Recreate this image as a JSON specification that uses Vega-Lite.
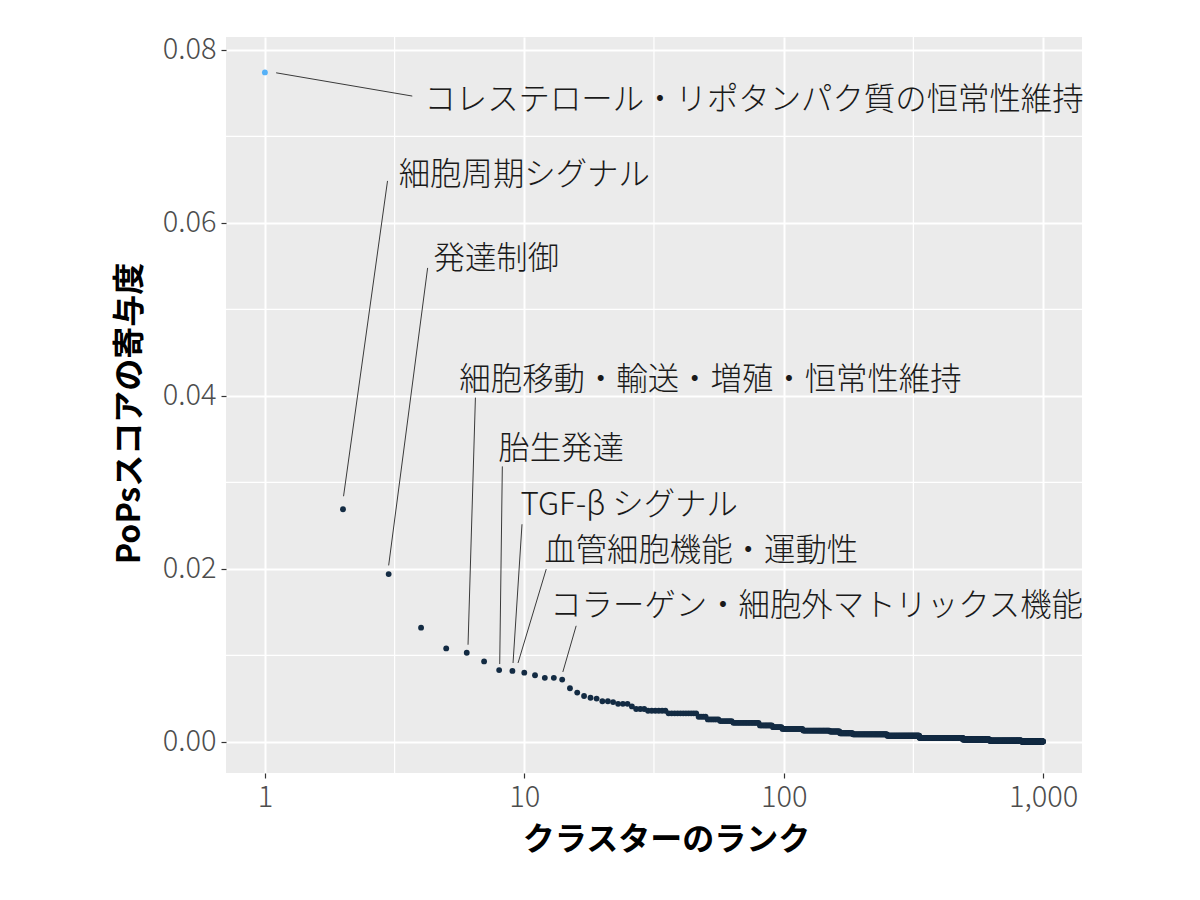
{
"$schema":"https://vega.github.io/schema/vega-lite/v6.json",
"width":856,"height":736,
"autosize":{"type":"none"},
"padding":{"left":226,"top":37,"right":118,"bottom":127},
"background":"white",
"config":{"view":{"fill":"#EBEBEB","stroke":null},"font":"Noto Sans CJK JP",
"axis":{"domain":false,"grid":true,"gridColor":"#FFFFFF","gridWidth":2,"tickColor":"#333333","tickSize":5,"tickWidth":1.2,"labelColor":"#4D4D4D","labelFont":"Noto Sans CJK JP","labelFontSize":29,"labelFontWeight":300,"titleColor":"#000000","titleFont":"Noto Sans CJK JP","titleFontSize":32,"titleFontWeight":"bold"}},
"datasets":{
"gx":[{"g":3.1623},{"g":31.623},{"g":316.23}],
"gy":[{"g":0.01},{"g":0.03},{"g":0.05},{"g":0.07}],
"lab":[
{"t":"コレステロール・リポタンパク質の恒常性維持","tx":4.12,"ty":0.0741,"sx":1.105,"sy":0.07736,"ex":3.70,"ey":0.07467},
{"t":"細胞周期シグナル","tx":3.28,"ty":0.0654,"sx":2.97,"sy":0.06486,"ex":2.01,"ey":0.0284},
{"t":"発達制御","tx":4.47,"ty":0.0557,"sx":4.24,"sy":0.0548,"ex":3.0,"ey":0.0204},
{"t":"細胞移動・輸送・増殖・恒常性維持","tx":5.62,"ty":0.04178,"sx":6.48,"sy":0.0398,"ex":6.07,"ey":0.01123},
{"t":"胎生発達","tx":7.94,"ty":0.0338,"sx":8.23,"sy":0.03185,"ex":8.04,"ey":0.009},
{"t":"TGF-β シグナル","tx":9.66,"ty":0.02724,"sx":9.8,"sy":0.02516,"ex":9.05,"ey":0.00912},
{"t":"血管細胞機能・運動性","tx":11.94,"ty":0.02193,"sx":12.15,"sy":0.01997,"ex":9.46,"ey":0.00912},
{"t":"コラーゲン・細胞外マトリックス機能","tx":12.59,"ty":0.01558,"sx":15.85,"sy":0.01342,"ex":14.08,"ey":0.00808}
],
"pts":[
{"r":1,"v":0.0774},{"r":2,"v":0.0269},{"r":3,"v":0.0194},{"r":4,"v":0.0132},{"r":5,"v":0.0108},{"r":6,"v":0.0103},{"r":7,"v":0.0093},{"r":8,"v":0.0083},{"r":9,"v":0.0082},{"r":10,"v":0.0080},
{"r":11,"v":0.0077},{"r":12,"v":0.0074},{"r":13,"v":0.0074},{"r":14,"v":0.0072},{"r":15,"v":0.0062},{"r":16,"v":0.0057},{"r":17,"v":0.0053},{"r":18,"v":0.0051},{"r":19,"v":0.0050},{"r":20,"v":0.0047},
{"r":21,"v":0.0047},{"r":22,"v":0.0046},{"r":23,"v":0.0044},{"r":24,"v":0.0044},{"r":25,"v":0.0044},{"r":26,"v":0.0041},{"r":27,"v":0.0038},{"r":28,"v":0.0038},{"r":29,"v":0.0038},{"r":30,"v":0.0036},
{"r":31,"v":0.0036},{"r":32,"v":0.0036},{"r":33,"v":0.0036},{"r":34,"v":0.0036},{"r":35,"v":0.0036},{"r":36,"v":0.0033},{"r":37,"v":0.0033},{"r":38,"v":0.0033},{"r":39,"v":0.0033},{"r":40,"v":0.0033},
{"r":41,"v":0.0033},{"r":42,"v":0.0033},{"r":43,"v":0.0033},{"r":44,"v":0.0033},{"r":45,"v":0.0033},{"r":46,"v":0.0033},{"r":47,"v":0.0029},{"r":48,"v":0.0029},{"r":49,"v":0.0029},{"r":50,"v":0.0029},
{"r":51,"v":0.0026},{"r":52,"v":0.0026},{"r":53,"v":0.0026},{"r":54,"v":0.0026},{"r":55,"v":0.0026},{"r":56,"v":0.0026},{"r":57,"v":0.0024},{"r":58,"v":0.0024},{"r":59,"v":0.0024},{"r":60,"v":0.0024},
{"r":61,"v":0.0024},{"r":62,"v":0.0024},{"r":63,"v":0.0024},{"r":64,"v":0.0022},{"r":65,"v":0.0022},{"r":66,"v":0.0022},{"r":67,"v":0.0022},{"r":68,"v":0.0022},{"r":69,"v":0.0022},{"r":70,"v":0.0022},
{"r":71,"v":0.0022},{"r":72,"v":0.0022},{"r":73,"v":0.0022},{"r":74,"v":0.0022},{"r":75,"v":0.0022},{"r":76,"v":0.0022},{"r":77,"v":0.0022},{"r":78,"v":0.0022},{"r":79,"v":0.0022},{"r":80,"v":0.0022},
{"r":81,"v":0.0019},{"r":82,"v":0.0019},{"r":83,"v":0.0019},{"r":84,"v":0.0019},{"r":85,"v":0.0019},{"r":86,"v":0.0019},{"r":87,"v":0.0019},{"r":88,"v":0.0019},{"r":89,"v":0.0019},{"r":90,"v":0.0019},
{"r":91,"v":0.0017},{"r":92,"v":0.0017},{"r":93,"v":0.0017},{"r":94,"v":0.0017},{"r":95,"v":0.0017},{"r":96,"v":0.0017},{"r":97,"v":0.0017},{"r":98,"v":0.0017},{"r":99,"v":0.0015},{"r":100,"v":0.0015},
{"r":101,"v":0.0015},{"r":102,"v":0.0015},{"r":103,"v":0.0015},{"r":104,"v":0.0015},{"r":105,"v":0.0015},{"r":106,"v":0.0015},{"r":107,"v":0.0015},{"r":108,"v":0.0015},{"r":109,"v":0.0015},{"r":110,"v":0.0015},
{"r":111,"v":0.0015},{"r":112,"v":0.0015},{"r":113,"v":0.0015},{"r":114,"v":0.0015},{"r":115,"v":0.0015},{"r":116,"v":0.0015},{"r":117,"v":0.0015},{"r":118,"v":0.0015},{"r":119,"v":0.0013},{"r":120,"v":0.0013},
{"r":121,"v":0.0013},{"r":122,"v":0.0013},{"r":123,"v":0.0013},{"r":124,"v":0.0013},{"r":125,"v":0.0013},{"r":126,"v":0.0013},{"r":127,"v":0.0013},{"r":128,"v":0.0013},{"r":129,"v":0.0013},{"r":130,"v":0.0013},
{"r":131,"v":0.0013},{"r":132,"v":0.0013},{"r":133,"v":0.0013},{"r":134,"v":0.0013},{"r":135,"v":0.0013},{"r":136,"v":0.0013},{"r":137,"v":0.0013},{"r":138,"v":0.0013},{"r":139,"v":0.0013},{"r":140,"v":0.0013},
{"r":141,"v":0.0013},{"r":142,"v":0.0013},{"r":143,"v":0.0013},{"r":144,"v":0.0013},{"r":145,"v":0.0013},{"r":146,"v":0.0013},{"r":147,"v":0.0013},{"r":148,"v":0.0013},{"r":149,"v":0.0013},{"r":150,"v":0.0013},
{"r":151,"v":0.0012},{"r":152,"v":0.0012},{"r":153,"v":0.0012},{"r":154,"v":0.0012},{"r":155,"v":0.0012},{"r":156,"v":0.0012},{"r":157,"v":0.0012},{"r":158,"v":0.0012},{"r":159,"v":0.0012},{"r":160,"v":0.0012},
{"r":161,"v":0.0012},{"r":162,"v":0.0012},{"r":163,"v":0.0012},{"r":164,"v":0.0012},{"r":165,"v":0.0010},{"r":166,"v":0.0010},{"r":167,"v":0.0010},{"r":168,"v":0.0010},{"r":169,"v":0.0010},{"r":170,"v":0.0010},
{"r":171,"v":0.0010},{"r":172,"v":0.0010},{"r":173,"v":0.0010},{"r":174,"v":0.0010},{"r":175,"v":0.0010},{"r":176,"v":0.0010},{"r":177,"v":0.0010},{"r":178,"v":0.0010},{"r":179,"v":0.0010},{"r":180,"v":0.0010},
{"r":181,"v":0.0010},{"r":182,"v":0.0010},{"r":183,"v":0.0010},{"r":184,"v":0.0010},{"r":185,"v":0.00087},{"r":186,"v":0.00087},{"r":187,"v":0.00087},{"r":188,"v":0.00087},{"r":189,"v":0.00087},{"r":190,"v":0.00087},
{"r":191,"v":0.00087},{"r":192,"v":0.00087},{"r":193,"v":0.00087},{"r":194,"v":0.00087},{"r":195,"v":0.00087},{"r":196,"v":0.00087},{"r":197,"v":0.00087},{"r":198,"v":0.00087},{"r":199,"v":0.00087},{"r":200,"v":0.00087},
{"r":201,"v":0.00087},{"r":202,"v":0.00087},{"r":203,"v":0.00087},{"r":204,"v":0.00087},{"r":205,"v":0.00087},{"r":206,"v":0.00087},{"r":207,"v":0.00087},{"r":208,"v":0.00087},{"r":209,"v":0.00087},{"r":210,"v":0.00087},
{"r":211,"v":0.00087},{"r":212,"v":0.00087},{"r":213,"v":0.00087},{"r":214,"v":0.00087},{"r":215,"v":0.00087},{"r":216,"v":0.00087},{"r":217,"v":0.00087},{"r":218,"v":0.00087},{"r":219,"v":0.00087},{"r":220,"v":0.00087},
{"r":221,"v":0.00087},{"r":222,"v":0.00087},{"r":223,"v":0.00087},{"r":224,"v":0.00087},{"r":225,"v":0.00087},{"r":226,"v":0.00087},{"r":227,"v":0.00087},{"r":228,"v":0.00087},{"r":229,"v":0.00087},{"r":230,"v":0.00087},
{"r":231,"v":0.00087},{"r":232,"v":0.00087},{"r":233,"v":0.00087},{"r":234,"v":0.00087},{"r":235,"v":0.00087},{"r":236,"v":0.00087},{"r":237,"v":0.00087},{"r":238,"v":0.00087},{"r":239,"v":0.00087},{"r":240,"v":0.00087},
{"r":241,"v":0.00087},{"r":242,"v":0.00087},{"r":243,"v":0.00087},{"r":244,"v":0.00087},{"r":245,"v":0.00087},{"r":246,"v":0.00087},{"r":247,"v":0.00087},{"r":248,"v":0.00087},{"r":249,"v":0.00087},{"r":250,"v":0.00087},
{"r":251,"v":0.00072},{"r":252,"v":0.00072},{"r":253,"v":0.00072},{"r":254,"v":0.00072},{"r":255,"v":0.00072},{"r":256,"v":0.00072},{"r":257,"v":0.00072},{"r":258,"v":0.00072},{"r":259,"v":0.00072},{"r":260,"v":0.00072},
{"r":261,"v":0.00072},{"r":262,"v":0.00072},{"r":263,"v":0.00072},{"r":264,"v":0.00072},{"r":265,"v":0.00072},{"r":266,"v":0.00072},{"r":267,"v":0.00072},{"r":268,"v":0.00072},{"r":269,"v":0.00072},{"r":270,"v":0.00072},
{"r":271,"v":0.00072},{"r":272,"v":0.00072},{"r":273,"v":0.00072},{"r":274,"v":0.00072},{"r":275,"v":0.00072},{"r":276,"v":0.00072},{"r":277,"v":0.00072},{"r":278,"v":0.00072},{"r":279,"v":0.00072},{"r":280,"v":0.00072},
{"r":281,"v":0.00072},{"r":282,"v":0.00072},{"r":283,"v":0.00072},{"r":284,"v":0.00072},{"r":285,"v":0.00072},{"r":286,"v":0.00072},{"r":287,"v":0.00072},{"r":288,"v":0.00072},{"r":289,"v":0.00072},{"r":290,"v":0.00072},
{"r":291,"v":0.00072},{"r":292,"v":0.00072},{"r":293,"v":0.00072},{"r":294,"v":0.00072},{"r":295,"v":0.00072},{"r":296,"v":0.00072},{"r":297,"v":0.00072},{"r":298,"v":0.00072},{"r":299,"v":0.00072},{"r":300,"v":0.00072},
{"r":301,"v":0.00072},{"r":302,"v":0.00072},{"r":303,"v":0.00072},{"r":304,"v":0.00072},{"r":305,"v":0.00072},{"r":306,"v":0.00072},{"r":307,"v":0.00072},{"r":308,"v":0.00072},{"r":309,"v":0.00072},{"r":310,"v":0.00072},
{"r":311,"v":0.00072},{"r":312,"v":0.00072},{"r":313,"v":0.00072},{"r":314,"v":0.00072},{"r":315,"v":0.00072},{"r":316,"v":0.00072},{"r":317,"v":0.00072},{"r":318,"v":0.00072},{"r":319,"v":0.00072},{"r":320,"v":0.00072},
{"r":321,"v":0.00072},{"r":322,"v":0.00072},{"r":323,"v":0.00072},{"r":324,"v":0.00072},{"r":325,"v":0.00072},{"r":326,"v":0.00072},{"r":327,"v":0.00072},{"r":328,"v":0.00072},{"r":329,"v":0.00072},{"r":330,"v":0.00072},
{"r":331,"v":0.00072},{"r":332,"v":0.00072},{"r":333,"v":0.00072},{"r":334,"v":0.00047},{"r":335,"v":0.00047},{"r":336,"v":0.00047},{"r":337,"v":0.00047},{"r":338,"v":0.00047},{"r":339,"v":0.00047},{"r":340,"v":0.00047},
{"r":341,"v":0.00047},{"r":342,"v":0.00047},{"r":343,"v":0.00047},{"r":344,"v":0.00047},{"r":345,"v":0.00047},{"r":346,"v":0.00047},{"r":347,"v":0.00047},{"r":348,"v":0.00047},{"r":349,"v":0.00047},{"r":350,"v":0.00047},
{"r":351,"v":0.00047},{"r":352,"v":0.00047},{"r":353,"v":0.00047},{"r":354,"v":0.00047},{"r":355,"v":0.00047},{"r":356,"v":0.00047},{"r":357,"v":0.00047},{"r":358,"v":0.00047},{"r":359,"v":0.00047},{"r":360,"v":0.00047},
{"r":361,"v":0.00047},{"r":362,"v":0.00047},{"r":363,"v":0.00047},{"r":364,"v":0.00047},{"r":365,"v":0.00047},{"r":366,"v":0.00047},{"r":367,"v":0.00047},{"r":368,"v":0.00047},{"r":369,"v":0.00047},{"r":370,"v":0.00047},
{"r":371,"v":0.00047},{"r":372,"v":0.00047},{"r":373,"v":0.00047},{"r":374,"v":0.00047},{"r":375,"v":0.00047},{"r":376,"v":0.00047},{"r":377,"v":0.00047},{"r":378,"v":0.00047},{"r":379,"v":0.00047},{"r":380,"v":0.00047},
{"r":381,"v":0.00047},{"r":382,"v":0.00047},{"r":383,"v":0.00047},{"r":384,"v":0.00047},{"r":385,"v":0.00047},{"r":386,"v":0.00047},{"r":387,"v":0.00047},{"r":388,"v":0.00047},{"r":389,"v":0.00047},{"r":390,"v":0.00047},
{"r":391,"v":0.00047},{"r":392,"v":0.00047},{"r":393,"v":0.00047},{"r":394,"v":0.00047},{"r":395,"v":0.00047},{"r":396,"v":0.00047},{"r":397,"v":0.00047},{"r":398,"v":0.00047},{"r":399,"v":0.00047},{"r":400,"v":0.00047},
{"r":401,"v":0.00047},{"r":402,"v":0.00047},{"r":403,"v":0.00047},{"r":404,"v":0.00047},{"r":405,"v":0.00047},{"r":406,"v":0.00047},{"r":407,"v":0.00047},{"r":408,"v":0.00047},{"r":409,"v":0.00047},{"r":410,"v":0.00047},
{"r":411,"v":0.00047},{"r":412,"v":0.00047},{"r":413,"v":0.00047},{"r":414,"v":0.00047},{"r":415,"v":0.00047},{"r":416,"v":0.00047},{"r":417,"v":0.00047},{"r":418,"v":0.00047},{"r":419,"v":0.00047},{"r":420,"v":0.00047},
{"r":421,"v":0.00047},{"r":422,"v":0.00047},{"r":423,"v":0.00047},{"r":424,"v":0.00047},{"r":425,"v":0.00047},{"r":426,"v":0.00047},{"r":427,"v":0.00047},{"r":428,"v":0.00047},{"r":429,"v":0.00047},{"r":430,"v":0.00047},
{"r":431,"v":0.00047},{"r":432,"v":0.00047},{"r":433,"v":0.00047},{"r":434,"v":0.00047},{"r":435,"v":0.00047},{"r":436,"v":0.00047},{"r":437,"v":0.00047},{"r":438,"v":0.00047},{"r":439,"v":0.00047},{"r":440,"v":0.00047},
{"r":441,"v":0.00047},{"r":442,"v":0.00047},{"r":443,"v":0.00047},{"r":444,"v":0.00047},{"r":445,"v":0.00047},{"r":446,"v":0.00047},{"r":447,"v":0.00047},{"r":448,"v":0.00047},{"r":449,"v":0.00047},{"r":450,"v":0.00047},
{"r":451,"v":0.00047},{"r":452,"v":0.00047},{"r":453,"v":0.00047},{"r":454,"v":0.00047},{"r":455,"v":0.00047},{"r":456,"v":0.00047},{"r":457,"v":0.00047},{"r":458,"v":0.00047},{"r":459,"v":0.00047},{"r":460,"v":0.00047},
{"r":461,"v":0.00047},{"r":462,"v":0.00047},{"r":463,"v":0.00047},{"r":464,"v":0.00047},{"r":465,"v":0.00047},{"r":466,"v":0.00047},{"r":467,"v":0.00047},{"r":468,"v":0.00047},{"r":469,"v":0.00047},{"r":470,"v":0.00047},
{"r":471,"v":0.00047},{"r":472,"v":0.00047},{"r":473,"v":0.00047},{"r":474,"v":0.00047},{"r":475,"v":0.00047},{"r":476,"v":0.00047},{"r":477,"v":0.00047},{"r":478,"v":0.00047},{"r":479,"v":0.00047},{"r":480,"v":0.00047},
{"r":481,"v":0.00047},{"r":482,"v":0.00047},{"r":483,"v":0.00047},{"r":484,"v":0.00047},{"r":485,"v":0.00047},{"r":486,"v":0.00047},{"r":487,"v":0.00047},{"r":488,"v":0.00047},{"r":489,"v":0.00047},{"r":490,"v":0.00047},
{"r":491,"v":0.00028},{"r":492,"v":0.00028},{"r":493,"v":0.00028},{"r":494,"v":0.00028},{"r":495,"v":0.00028},{"r":496,"v":0.00028},{"r":497,"v":0.00028},{"r":498,"v":0.00028},{"r":499,"v":0.00028},{"r":500,"v":0.00028},
{"r":501,"v":0.00028},{"r":502,"v":0.00028},{"r":503,"v":0.00028},{"r":504,"v":0.00028},{"r":505,"v":0.00028},{"r":506,"v":0.00028},{"r":507,"v":0.00028},{"r":508,"v":0.00028},{"r":509,"v":0.00028},{"r":510,"v":0.00028},
{"r":511,"v":0.00028},{"r":512,"v":0.00028},{"r":513,"v":0.00028},{"r":514,"v":0.00028},{"r":515,"v":0.00028},{"r":516,"v":0.00028},{"r":517,"v":0.00028},{"r":518,"v":0.00028},{"r":519,"v":0.00028},{"r":520,"v":0.00028},
{"r":521,"v":0.00028},{"r":522,"v":0.00028},{"r":523,"v":0.00028},{"r":524,"v":0.00028},{"r":525,"v":0.00028},{"r":526,"v":0.00028},{"r":527,"v":0.00028},{"r":528,"v":0.00028},{"r":529,"v":0.00028},{"r":530,"v":0.00028},
{"r":531,"v":0.00028},{"r":532,"v":0.00028},{"r":533,"v":0.00028},{"r":534,"v":0.00028},{"r":535,"v":0.00028},{"r":536,"v":0.00028},{"r":537,"v":0.00028},{"r":538,"v":0.00028},{"r":539,"v":0.00028},{"r":540,"v":0.00028},
{"r":541,"v":0.00028},{"r":542,"v":0.00028},{"r":543,"v":0.00028},{"r":544,"v":0.00028},{"r":545,"v":0.00028},{"r":546,"v":0.00028},{"r":547,"v":0.00028},{"r":548,"v":0.00028},{"r":549,"v":0.00028},{"r":550,"v":0.00028},
{"r":551,"v":0.00028},{"r":552,"v":0.00028},{"r":553,"v":0.00028},{"r":554,"v":0.00028},{"r":555,"v":0.00028},{"r":556,"v":0.00028},{"r":557,"v":0.00028},{"r":558,"v":0.00028},{"r":559,"v":0.00028},{"r":560,"v":0.00028},
{"r":561,"v":0.00028},{"r":562,"v":0.00028},{"r":563,"v":0.00028},{"r":564,"v":0.00028},{"r":565,"v":0.00028},{"r":566,"v":0.00028},{"r":567,"v":0.00028},{"r":568,"v":0.00028},{"r":569,"v":0.00028},{"r":570,"v":0.00028},
{"r":571,"v":0.00028},{"r":572,"v":0.00028},{"r":573,"v":0.00028},{"r":574,"v":0.00028},{"r":575,"v":0.00028},{"r":576,"v":0.00028},{"r":577,"v":0.00028},{"r":578,"v":0.00028},{"r":579,"v":0.00028},{"r":580,"v":0.00028},
{"r":581,"v":0.00028},{"r":582,"v":0.00028},{"r":583,"v":0.00028},{"r":584,"v":0.00028},{"r":585,"v":0.00028},{"r":586,"v":0.00028},{"r":587,"v":0.00028},{"r":588,"v":0.00028},{"r":589,"v":0.00028},{"r":590,"v":0.00028},
{"r":591,"v":0.00028},{"r":592,"v":0.00028},{"r":593,"v":0.00028},{"r":594,"v":0.00028},{"r":595,"v":0.00028},{"r":596,"v":0.00028},{"r":597,"v":0.00028},{"r":598,"v":0.00028},{"r":599,"v":0.00028},{"r":600,"v":0.00028},
{"r":601,"v":0.00028},{"r":602,"v":0.00028},{"r":603,"v":0.00028},{"r":604,"v":0.00028},{"r":605,"v":0.00028},{"r":606,"v":0.00028},{"r":607,"v":0.00028},{"r":608,"v":0.00028},{"r":609,"v":0.00028},{"r":610,"v":0.00028},
{"r":611,"v":0.00028},{"r":612,"v":0.00028},{"r":613,"v":0.00028},{"r":614,"v":0.00028},{"r":615,"v":0.00028},{"r":616,"v":0.00028},{"r":617,"v":0.00028},{"r":618,"v":0.00028},{"r":619,"v":0.00028},{"r":620,"v":0.00028},
{"r":621,"v":0.00015},{"r":622,"v":0.00015},{"r":623,"v":0.00015},{"r":624,"v":0.00015},{"r":625,"v":0.00015},{"r":626,"v":0.00015},{"r":627,"v":0.00015},{"r":628,"v":0.00015},{"r":629,"v":0.00015},{"r":630,"v":0.00015},
{"r":631,"v":0.00015},{"r":632,"v":0.00015},{"r":633,"v":0.00015},{"r":634,"v":0.00015},{"r":635,"v":0.00015},{"r":636,"v":0.00015},{"r":637,"v":0.00015},{"r":638,"v":0.00015},{"r":639,"v":0.00015},{"r":640,"v":0.00015},
{"r":641,"v":0.00015},{"r":642,"v":0.00015},{"r":643,"v":0.00015},{"r":644,"v":0.00015},{"r":645,"v":0.00015},{"r":646,"v":0.00015},{"r":647,"v":0.00015},{"r":648,"v":0.00015},{"r":649,"v":0.00015},{"r":650,"v":0.00015},
{"r":651,"v":0.00015},{"r":652,"v":0.00015},{"r":653,"v":0.00015},{"r":654,"v":0.00015},{"r":655,"v":0.00015},{"r":656,"v":0.00015},{"r":657,"v":0.00015},{"r":658,"v":0.00015},{"r":659,"v":0.00015},{"r":660,"v":0.00015},
{"r":661,"v":0.00015},{"r":662,"v":0.00015},{"r":663,"v":0.00015},{"r":664,"v":0.00015},{"r":665,"v":0.00015},{"r":666,"v":0.00015},{"r":667,"v":0.00015},{"r":668,"v":0.00015},{"r":669,"v":0.00015},{"r":670,"v":0.00015},
{"r":671,"v":0.00015},{"r":672,"v":0.00015},{"r":673,"v":0.00015},{"r":674,"v":0.00015},{"r":675,"v":0.00015},{"r":676,"v":0.00015},{"r":677,"v":0.00015},{"r":678,"v":0.00015},{"r":679,"v":0.00015},{"r":680,"v":0.00015},
{"r":681,"v":0.00015},{"r":682,"v":0.00015},{"r":683,"v":0.00015},{"r":684,"v":0.00015},{"r":685,"v":0.00015},{"r":686,"v":0.00015},{"r":687,"v":0.00015},{"r":688,"v":0.00015},{"r":689,"v":0.00015},{"r":690,"v":0.00015},
{"r":691,"v":0.00015},{"r":692,"v":0.00015},{"r":693,"v":0.00015},{"r":694,"v":0.00015},{"r":695,"v":0.00015},{"r":696,"v":0.00015},{"r":697,"v":0.00015},{"r":698,"v":0.00015},{"r":699,"v":0.00015},{"r":700,"v":0.00015},
{"r":701,"v":0.00015},{"r":702,"v":0.00015},{"r":703,"v":0.00015},{"r":704,"v":0.00015},{"r":705,"v":0.00015},{"r":706,"v":0.00015},{"r":707,"v":0.00015},{"r":708,"v":0.00015},{"r":709,"v":0.00015},{"r":710,"v":0.00015},
{"r":711,"v":0.00015},{"r":712,"v":0.00015},{"r":713,"v":0.00015},{"r":714,"v":0.00015},{"r":715,"v":0.00015},{"r":716,"v":0.00015},{"r":717,"v":0.00015},{"r":718,"v":0.00015},{"r":719,"v":0.00015},{"r":720,"v":0.00015},
{"r":721,"v":0.00015},{"r":722,"v":0.00015},{"r":723,"v":0.00015},{"r":724,"v":0.00015},{"r":725,"v":0.00015},{"r":726,"v":0.00015},{"r":727,"v":0.00015},{"r":728,"v":0.00015},{"r":729,"v":0.00015},{"r":730,"v":0.00015},
{"r":731,"v":0.00015},{"r":732,"v":0.00015},{"r":733,"v":0.00015},{"r":734,"v":0.00015},{"r":735,"v":0.00015},{"r":736,"v":0.00015},{"r":737,"v":0.00015},{"r":738,"v":0.00015},{"r":739,"v":0.00015},{"r":740,"v":0.00015},
{"r":741,"v":0.00015},{"r":742,"v":0.00015},{"r":743,"v":0.00015},{"r":744,"v":0.00015},{"r":745,"v":0.00015},{"r":746,"v":0.00015},{"r":747,"v":0.00015},{"r":748,"v":0.00015},{"r":749,"v":0.00015},{"r":750,"v":0.00015},
{"r":751,"v":0.00015},{"r":752,"v":0.00015},{"r":753,"v":0.00015},{"r":754,"v":0.00015},{"r":755,"v":0.00015},{"r":756,"v":0.00015},{"r":757,"v":0.00015},{"r":758,"v":0.00015},{"r":759,"v":0.00015},{"r":760,"v":0.00015},
{"r":761,"v":0.00015},{"r":762,"v":0.00015},{"r":763,"v":0.00015},{"r":764,"v":0.00015},{"r":765,"v":0.00015},{"r":766,"v":0.00015},{"r":767,"v":0.00015},{"r":768,"v":0.00015},{"r":769,"v":0.00015},{"r":770,"v":0.00015},
{"r":771,"v":0.00015},{"r":772,"v":0.00015},{"r":773,"v":0.00015},{"r":774,"v":0.00015},{"r":775,"v":0.00015},{"r":776,"v":0.00015},{"r":777,"v":0.00015},{"r":778,"v":0.00015},{"r":779,"v":0.00015},{"r":780,"v":0.00015},
{"r":781,"v":0.00015},{"r":782,"v":0.00015},{"r":783,"v":0.00015},{"r":784,"v":0.00015},{"r":785,"v":0.00015},{"r":786,"v":0.00015},{"r":787,"v":0.00015},{"r":788,"v":0.00015},{"r":789,"v":0.00015},{"r":790,"v":0.00015},
{"r":791,"v":0.00015},{"r":792,"v":0.00015},{"r":793,"v":0.00015},{"r":794,"v":0.00015},{"r":795,"v":0.00015},{"r":796,"v":0.00015},{"r":797,"v":0.00015},{"r":798,"v":0.00015},{"r":799,"v":0.00015},{"r":800,"v":0.00015},
{"r":801,"v":0.00015},{"r":802,"v":0.00015},{"r":803,"v":0.00015},{"r":804,"v":0.00015},{"r":805,"v":0.00015},{"r":806,"v":0.00015},{"r":807,"v":0.00015},{"r":808,"v":0.00015},{"r":809,"v":0.00015},{"r":810,"v":0.00015},
{"r":811,"v":0.00015},{"r":812,"v":0.00015},{"r":813,"v":0.00015},{"r":814,"v":0.00015},{"r":815,"v":0.00015},{"r":816,"v":0.00015},{"r":817,"v":0.00015},{"r":818,"v":0.00015},{"r":819,"v":0.00015},{"r":820,"v":0.00015},
{"r":821,"v":0.00015},{"r":822,"v":0.00015},{"r":823,"v":0.00015},{"r":824,"v":0.00015},{"r":825,"v":0.00015},{"r":826,"v":0.00015},{"r":827,"v":0.00004},{"r":828,"v":0.00004},{"r":829,"v":0.00004},{"r":830,"v":0.00004},
{"r":831,"v":0.00004},{"r":832,"v":0.00004},{"r":833,"v":0.00004},{"r":834,"v":0.00004},{"r":835,"v":0.00004},{"r":836,"v":0.00004},{"r":837,"v":0.00004},{"r":838,"v":0.00004},{"r":839,"v":0.00004},{"r":840,"v":0.00004},
{"r":841,"v":0.00004},{"r":842,"v":0.00004},{"r":843,"v":0.00004},{"r":844,"v":0.00004},{"r":845,"v":0.00004},{"r":846,"v":0.00004},{"r":847,"v":0.00004},{"r":848,"v":0.00004},{"r":849,"v":0.00004},{"r":850,"v":0.00004},
{"r":851,"v":0.00004},{"r":852,"v":0.00004},{"r":853,"v":0.00004},{"r":854,"v":0.00004},{"r":855,"v":0.00004},{"r":856,"v":0.00004},{"r":857,"v":0.00004},{"r":858,"v":0.00004},{"r":859,"v":0.00004},{"r":860,"v":0.00004},
{"r":861,"v":0.00004},{"r":862,"v":0.00004},{"r":863,"v":0.00004},{"r":864,"v":0.00004},{"r":865,"v":0.00004},{"r":866,"v":0.00004},{"r":867,"v":0.00004},{"r":868,"v":0.00004},{"r":869,"v":0.00004},{"r":870,"v":0.00004},
{"r":871,"v":0.00004},{"r":872,"v":0.00004},{"r":873,"v":0.00004},{"r":874,"v":0.00004},{"r":875,"v":0.00004},{"r":876,"v":0.00004},{"r":877,"v":0.00004},{"r":878,"v":0.00004},{"r":879,"v":0.00004},{"r":880,"v":0.00004},
{"r":881,"v":0.00004},{"r":882,"v":0.00004},{"r":883,"v":0.00004},{"r":884,"v":0.00004},{"r":885,"v":0.00004},{"r":886,"v":0.00004},{"r":887,"v":0.00004},{"r":888,"v":0.00004},{"r":889,"v":0.00004},{"r":890,"v":0.00004},
{"r":891,"v":0.00004},{"r":892,"v":0.00004},{"r":893,"v":0.00004},{"r":894,"v":0.00004},{"r":895,"v":0.00004},{"r":896,"v":0.00004},{"r":897,"v":0.00004},{"r":898,"v":0.00004},{"r":899,"v":0.00004},{"r":900,"v":0.00004},
{"r":901,"v":0.00004},{"r":902,"v":0.00004},{"r":903,"v":0.00004},{"r":904,"v":0.00004},{"r":905,"v":0.00004},{"r":906,"v":0.00004},{"r":907,"v":0.00004},{"r":908,"v":0.00004},{"r":909,"v":0.00004},{"r":910,"v":0.00004},
{"r":911,"v":0.00004},{"r":912,"v":0.00004},{"r":913,"v":0.00004},{"r":914,"v":0.00004},{"r":915,"v":0.00004},{"r":916,"v":0.00004},{"r":917,"v":0.00004},{"r":918,"v":0.00004},{"r":919,"v":0.00004},{"r":920,"v":0.00004},
{"r":921,"v":0.00004},{"r":922,"v":0.00004},{"r":923,"v":0.00004},{"r":924,"v":0.00004},{"r":925,"v":0.00004},{"r":926,"v":0.00004},{"r":927,"v":0.00004},{"r":928,"v":0.00004},{"r":929,"v":0.00004},{"r":930,"v":0.00004},
{"r":931,"v":0.00004},{"r":932,"v":0.00004},{"r":933,"v":0.00004},{"r":934,"v":0.00004},{"r":935,"v":0.00004},{"r":936,"v":0.00004},{"r":937,"v":0.00004},{"r":938,"v":0.00004},{"r":939,"v":0.00004},{"r":940,"v":0.00004},
{"r":941,"v":0.00004},{"r":942,"v":0.00004},{"r":943,"v":0.00004},{"r":944,"v":0.00004},{"r":945,"v":0.00004},{"r":946,"v":0.00004},{"r":947,"v":0.00004},{"r":948,"v":0.00004},{"r":949,"v":0.00004},{"r":950,"v":0.00004},
{"r":951,"v":0.00004},{"r":952,"v":0.00004},{"r":953,"v":0.00004},{"r":954,"v":0.00004},{"r":955,"v":0.00004},{"r":956,"v":0.00004},{"r":957,"v":0.00004},{"r":958,"v":0.00004},{"r":959,"v":0.00004},{"r":960,"v":0.00004},
{"r":961,"v":0.00004},{"r":962,"v":0.00004},{"r":963,"v":0.00004},{"r":964,"v":0.00004},{"r":965,"v":0.00004},{"r":966,"v":0.00004},{"r":967,"v":0.00004},{"r":968,"v":0.00004},{"r":969,"v":0.00004},{"r":970,"v":0.00004},
{"r":971,"v":0.00004},{"r":972,"v":0.00004},{"r":973,"v":0.00004},{"r":974,"v":0.00004},{"r":975,"v":0.00004},{"r":976,"v":0.00004},{"r":977,"v":0.00004},{"r":978,"v":0.00004},{"r":979,"v":0.00004},{"r":980,"v":0.00004},
{"r":981,"v":0.00004},{"r":982,"v":0.00004},{"r":983,"v":0.00004},{"r":984,"v":0.00004},{"r":985,"v":0.00004},{"r":986,"v":0.00004},{"r":987,"v":0.00004},{"r":988,"v":0.00004},{"r":989,"v":0.00004},{"r":990,"v":0.00004},
{"r":991,"v":0.00004},{"r":992,"v":0.00004},{"r":993,"v":0.00004},{"r":994,"v":0.00004},{"r":995,"v":0.00004},{"r":996,"v":0.00004},{"r":997,"v":0.00004},{"r":998,"v":0.00004},{"r":999,"v":0.00004},{"r":1000,"v":0.00004}
]},
"layer":[
{"data":{"name":"gx"},"mark":{"type":"rule","color":"#FFFFFF","strokeWidth":1.2},
 "encoding":{"x":{"field":"g","type":"quantitative","scale":{"type":"log","domain":[0.708,1413],"nice":false},"title":"クラスターのランク"}}},
{"data":{"name":"gy"},"mark":{"type":"rule","color":"#FFFFFF","strokeWidth":1.2},
 "encoding":{"y":{"field":"g","type":"quantitative","scale":{"domain":[-0.0036,0.0815],"nice":false,"zero":false},"title":"PoPsスコアの寄与度"}}},
{"data":{"name":"lab"},"mark":{"type":"rule","color":"#3A3A3A","strokeWidth":1},
 "encoding":{"x":{"field":"sx","type":"quantitative","scale":{"type":"log","domain":[0.708,1413],"nice":false},"title":"クラスターのランク"},
  "y":{"field":"sy","type":"quantitative","scale":{"domain":[-0.0036,0.0815],"nice":false,"zero":false},"title":"PoPsスコアの寄与度"},
  "x2":{"field":"ex"},"y2":{"field":"ey"}}},
{"data":{"name":"pts"},"mark":{"type":"circle","size":34,"opacity":1},
 "encoding":{"x":{"field":"r","type":"quantitative","scale":{"type":"log","domain":[0.708,1413],"nice":false},"title":"クラスターのランク",
   "axis":{"values":[1,10,100,1000],"format":",","labelPadding":5,"titlePadding":12,"tickSize":5,"titleX":440}},
  "y":{"field":"v","type":"quantitative","scale":{"domain":[-0.0036,0.0815],"nice":false,"zero":false},"title":"PoPsスコアの寄与度",
   "axis":{"values":[0,0.02,0.04,0.06,0.08],"format":".2f","labelPadding":5,"titlePadding":16,"tickSize":5,"titleY":376}},
  "color":{"condition":{"test":"datum.r === 1","value":"#56B1F7"},"value":"#132B43"}}},
{"data":{"name":"lab"},"mark":{"type":"text","align":"left","baseline":"middle","fontSize":31.4,"fontWeight":300,"color":"#1A1A1A","font":"Noto Sans CJK JP"},
 "encoding":{"x":{"field":"tx","type":"quantitative","scale":{"type":"log","domain":[0.708,1413],"nice":false},"title":"クラスターのランク"},
  "y":{"field":"ty","type":"quantitative","scale":{"domain":[-0.0036,0.0815],"nice":false,"zero":false},"title":"PoPsスコアの寄与度"},
  "text":{"field":"t"}}}
]
}
